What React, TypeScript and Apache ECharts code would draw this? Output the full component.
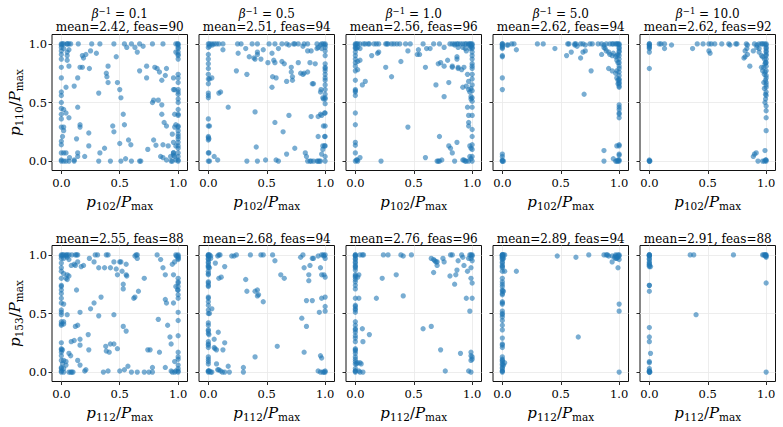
import React, { useEffect, useRef } from 'react';
import * as echarts from 'echarts';

// ---- labels ----
const betaValues = ['0.1', '0.5', '1.0', '5.0', '10.0'];
const topStats = ['mean=2.42, feas=90', 'mean=2.51, feas=94', 'mean=2.56, feas=96', 'mean=2.62, feas=94', 'mean=2.62, feas=92'];
const bottomStats = ['mean=2.55, feas=88', 'mean=2.68, feas=94', 'mean=2.76, feas=96', 'mean=2.89, feas=94', 'mean=2.91, feas=88'];
const tickValues = [0, 0.5, 1];
const topXSub = '102';
const topYSub = '110';
const bottomXSub = '112';
const bottomYSub = '153';

// ---- data: [x, y] ----
const top1: number[][] = [
  [0,1],[0.01,1],[0.02,1],[0.05,1],[0.065,1],[0.08,1],[0.145,1],[0.26,1],[0.33,1],[0.45,1],[0.54,1],[0.6,1],[0.67,1],[0.78,1],[0.87,1],[0.98,1],[0.995,1],[1,1],
  [0,0.97],[0.02,0.96],[0.05,0.93],[0.065,0.95],[0,0.91],[0.25,0.94],[0.3,0.92],[0.56,0.97],[0.63,0.97],[0.7,0.98],[1,0.96],[0.98,0.93],[1,0.91],[0.65,0.93],[0.18,0.9],[0.19,0.88],[0.21,0.91],
  [0,0.99],[0,0.94],[0,0.87],[0,0.8],[0,0.71],[0,0.59],[0,0.56],[0,0.5],[0,0.45],[0,0.4],[0,0.36],[0,0.29],[0,0.17],[0,0.14],[0,0.07],[0,0.01],[0,0],
  [0.04,0.63],[0.02,0.44],[0.04,0.41],[0.065,0.37],[0.02,0.29],[0.02,0.26],[0.01,0.21],[0.02,0.07],[0.04,0.07],[0.02,0],[0.04,0],[0.065,0],[0.11,0],[0.11,0.01],[0.07,0.03],[0.14,0.04],[0.05,0.9],[0.05,0.86],[0.065,0.81],[0.05,1],
  [0.11,0.64],[0.14,0.71],[0.16,0.8],[0.18,0.8],[0.24,0.79],[0.14,0.46],[0.16,0.31],[0.16,0.29],[0.13,0.19],[0.14,0.07],[0.235,0.24],[0.235,0.13],[0.2,0.04],[0.32,0.58],[0.33,0.07],[0.37,0.11],[0.32,0],[0.42,0],[0.385,0.75],[0.4,0.81],[0.39,0.72],[0.4,0.67],[0.48,0.67],[0.47,0.89],[0.5,0.61],[0.51,0.54],[0.44,0.3],[0.45,0.25],[0.54,0.31],[0.53,0.4],[0.5,0.15],[0.51,0],[0.55,0.02],[0.6,0],[0.67,0],[0.68,0],[0.575,0.18],[0.595,0.14],[0.67,0.77],[0.73,0.81],[0.73,0.71],[0.8,0.8],[0.82,0.79],[0.84,0.76],[0.86,0.69],[0.9,0.79],[0.89,0.73],[0.78,0.5],[0.79,0.52],[0.83,0.52],[0.86,0.48],[0.86,0.4],[0.74,0.1],[0.79,0.18],[0.81,0.135],[0.87,0.14],[0.88,0.33],[0.9,0.3],[0.85,0.04],[0.87,0.03],[0.9,0.01],[0.935,0.04],[0.94,0],[0.95,0],[0.96,0.05],[0.96,0.07],[0.915,0.13],
  [1,0.99],[1,0.97],[1,0.93],[1,0.9],[1,0.87],[1,0.74],[1,0.71],[1,0.67],[1,0.61],[1,0.59],[1,0.57],[1,0.53],[1,0.5],[1,0.44],[1,0.4],[1,0.39],[1,0.3],[1,0.29],[1,0.26],[1,0.23],[1,0.21],[1,0.19],[1,0.16],[1,0.13],[1,0.11],[1,0.07],[1,0.04],[1,0.01],[1,0],
  [0.96,0.61],[0.97,0.61],[0.96,0.71],[0.97,0.4],[0.98,0.31],[0.97,0.29],[0.95,0.23],[0.96,0.16],[0.98,0.13],[0.96,0.07],[0.97,0.04],[0.98,0.01],
];

const top2: number[][] = [
  [0,1],[0.01,1],[0.03,1],[0.05,1],[0.07,1],[0.09,1],[0.125,1],[0.25,1],[0.28,1],[0.375,1],[0.42,1],[0.52,1],[0.57,1],[0.63,1],[0.67,1],[0.74,1],[0.77,1],[0.82,1],[0.85,1],[0.93,1],[0.97,1],[0.985,1],[1,1],
  [0,0.97],[0.01,0.98],[0.035,0.99],[0.125,0.95],[0.255,0.92],[0.32,0.96],[0.42,0.93],[0.47,0.95],[0.545,0.92],[0.6,0.96],[0.69,0.99],[0.73,1],[0.81,0.98],[0.85,0.94],[0.88,0.94],[0.93,0.96],[0.94,0.97],[0.96,0.99],[1,0.97],[0.97,0.96],
  [0,0.91],[0,0.87],[0,0.83],[0,0.79],[0,0.74],[0,0.7],[0,0.66],[0,0.58],[0,0.56],[0,0.54],[0,0.36],[0,0.3],[0,0.21],[0,0.2],[0,0.18],[0,0.07],[0,0],[0.01,0.7],[0.01,0.3],[0.005,0.19],[0.03,0.71],[0.09,0.58],[0.105,0.59],[0.17,0.46],[0.05,0.04],[0.08,0.01],[0.01,0],[0.005,0.07],
  [0.24,0.77],[0.33,0.74],[0.35,0.89],[0.39,0.88],[0.4,0.87],[0.42,0.91],[0.45,0.87],[0.51,0.84],[0.56,0.86],[0.57,0.84],[0.55,0.72],[0.58,0.71],[0.545,0.63],[0.63,0.85],[0.65,0.83],[0.67,0.68],[0.72,0.72],[0.72,0.69],[0.71,0.8],[0.71,0.76],[0.77,0.84],[0.79,0.75],[0.82,0.75],[0.81,0.74],[0.85,0.76],[0.89,0.66],[0.9,0.66],[0.87,0.84],[0.915,0.83],[0.4,0.42],[0.57,0.33],[0.69,0.39],[0.64,0.25],[0.41,0.12],[0.33,0],[0.42,0],[0.49,0.01],[0.58,0.01],[0.6,0],[0.67,0.06],[0.74,0.11],[0.83,0.07],[0.84,0.04],[0.85,0],[0.87,0],[0.88,0],[0.9,0],[0.93,0],[0.94,0],[0.88,0.38],[0.94,0.38],[0.94,0.21],[0.98,0.13],[0.995,0.13],[0.97,0.06],[0.98,0.1],[0.995,0.21],[0.995,0.41],
  [1,0.99],[1,0.94],[1,0.9],[1,0.83],[1,0.8],[1,0.79],[1,0.77],[1,0.74],[1,0.71],[1,0.69],[1,0.65],[1,0.61],[1,0.57],[1,0.54],[1,0.53],[1,0.49],[1,0.41],[1,0.3],[1,0.21],[1,0.13],[1,0.04],[1,0],[0.965,0.61],[0.96,0.59],[0.98,0.54],[0.985,0.53],[0.96,0.4],[0.97,0.39],[0.985,0.3],[0.96,0],[0.95,0],
];

const top3: number[][] = [
  [0,1],[0.01,1],[0.02,1],[0.04,1],[0.07,1],[0.085,1],[0.11,1],[0.12,1],[0.16,1],[0.18,1],[0.2,1],[0.26,1],[0.27,1],[0.28,1],[0.31,1],[0.33,1],[0.355,1],[0.38,1],[0.43,1],[0.47,1],[0.58,1],[0.67,1],[0.72,1],[0.81,1],[0.83,1],[0.85,1],[0.87,1],[0.88,1],[0.9,1],[0.92,1],[0.94,1],[0.95,1],[0.97,1],[0.98,1],[0.99,1],[1,1],
  [0,0.99],[0.01,0.96],[0,0.93],[0.02,0.97],[0.04,0.96],[0.2,0.93],[0.14,0.9],[0.19,0.92],[0.45,0.94],[0.54,0.95],[0.53,0.91],[0.55,0.91],[0.61,0.96],[0.64,0.96],[0.76,0.97],[0.85,0.99],[0.88,0.97],[0.92,0.97],[0.94,0.96],[0.95,0.94],[0.97,0.99],[0.98,0.96],[0.99,0.98],
  [0,0.97],[0,0.96],[0,0.9],[0,0.87],[0,0.84],[0,0.81],[0,0.77],[0,0.69],[0,0.61],[0,0.59],[0,0.56],[0,0.41],[0,0.31],[0,0.16],[0,0.135],[0,0.07],[0,0],[0.02,0.85],[0.04,0.86],[0.02,0.78],[0.04,0.03],[0.015,0.01],[0.02,0],[0.01,0.01],[0.06,0.65],[0.085,0.68],[0,0.6],
  [0.26,0.8],[0.31,0.72],[0.39,0.85],[0.45,0.29],[0.22,0],[0.6,0.8],[0.69,0.65],[0.73,0.84],[0.71,0.83],[0.76,0.81],[0.79,0.86],[0.83,0.81],[0.83,0.8],[0.8,0.67],[0.76,0.55],[0.87,0.89],[0.87,0.87],[0.88,0.8],[0.88,0.79],[0.91,0.78],[0.93,0.8],[0.96,0.74],[0.97,0.68],[0.95,0.64],[0.92,0.63],[0.97,0.61],[0.99,0.62],[0.98,0.59],[0.99,0.53],[0.99,0.55],[0.96,0.46],[0.97,0.39],[0.97,0.33],[0.97,0.3],[0.72,0.21],[0.8,0.13],[0.815,0.11],[0.83,0.07],[0.85,0],[0.72,0],[0.71,0],[0.7,0],[0.74,0.01],[0.6,0.03],[0.87,0.16],[0.93,0.01],[0.95,0],[0.94,0],[0.92,0.01],[0.99,0.11],[0.98,0.04],[0.99,0.02],[0.97,0],[0.98,0.13],
  [1,0.99],[1,0.97],[1,0.96],[1,0.93],[1,0.9],[1,0.87],[1,0.83],[1,0.81],[1,0.79],[1,0.74],[1,0.7],[1,0.65],[1,0.6],[1,0.54],[1,0.51],[1,0.46],[1,0.39],[1,0.27],[1,0.21],[1,0.14],[1,0.1],[1,0.04],[1,0],
];

const top4: number[][] = [
  [0,1],[0,1],[0,0.99],[0,0.98],[0,0.97],[0,0.96],[0,0.9],[0,0.89],[0,0.71],[0,0.61],[0,0.06],[0,0.04],[0,0.01],[0,0],[0,0],[0.01,0],
  [0.04,0.99],[0.05,0.99],[0.08,1],[0.1,1],[0.12,0.95],[0.3,1],[0.35,1],[0.45,0.96],[0.56,1],[0.57,1],[0.62,1],[0.63,1],[0.67,1],[0.69,1],[0.71,0.99],[0.75,1],[0.77,1],[0.82,1],[0.85,1],[0.87,0.99],[0.89,1],[0.92,1],[0.94,1],[0.95,1],[0.97,1],[0.98,1],[0.99,1],[1,1],
  [0.55,0.9],[0.59,0.93],[0.62,0.99],[0.64,0.98],[0.69,0.93],[0.71,0.94],[0.67,0.88],[0.87,0.97],[0.88,0.96],[0.85,0.91],[0.89,0.94],[0.91,0.93],[0.92,0.91],[0.94,0.9],[0.95,0.92],[0.97,0.89],[0.98,0.9],[0.99,0.91],[1,0.87],[0.98,0.86],[0.99,0.84],[0.91,0.79],[0.94,0.77],[0.97,0.75],[0.98,0.77],[1,0.76],[0.98,0.71],[0.99,0.69],[0.99,0.66],[1,0.64],[0.76,0.77],[0.7,0.57],
  [1,0.99],[1,0.97],[1,0.96],[1,0.94],[1,0.93],[1,0.9],[1,0.84],[1,0.81],[1,0.79],[1,0.73],[1,0.7],[1,0.69],[1,0.67],[1,0.66],[1,0.63],[1,0.48],[1,0.46],[1,0.44],[1,0.41],[1,0.4],[1,0.37],[1,0.14],[1,0.13],[1,0.06],[1,0.01],[1,0],
  [0.87,0.09],[0.87,0],[0.95,0.02],[0.97,0],[0.98,0],[0.99,0],[0.99,0.01],[0.98,0.13],[1,0.05],
];

const top5: number[][] = [
  [0,1],[0,1],[0,0.99],[0,0.98],[0,0.97],[0,0.96],[0,0.93],[0,0.79],[0,0.01],[0,0],[0,0],[0.005,0],
  [0.085,1],[0.1,1],[0.13,1],[0.13,0.96],[0.19,0.99],[0.37,0.96],[0.41,1],[0.46,1],[0.51,1],[0.53,1],[0.56,1],[0.62,1],[0.68,1],[0.74,1],[0.75,1],[0.83,1],[0.84,0.99],[0.92,0.99],[0.94,1],[0.96,1],[0.97,1],[0.985,1],[1,1],
  [0.51,0.94],[0.52,0.92],[0.69,0.99],[0.81,0.88],[0.82,0.89],[0.84,0.91],[0.82,0.94],[0.835,0.96],[0.89,0.94],[0.9,1],[0.92,0.97],[0.94,0.96],[0.94,0.93],[0.96,0.9],[0.97,0.89],[0.985,0.87],[0.995,0.84],[1,0.97],[0.86,0.81],[0.96,0.8],[0.98,0.8],[0.97,0.77],[0.985,0.74],[1,0.71],[0.995,0.69],[0.98,0.67],[1,0.65],[0.985,0.62],[1,0.59],[0.995,0.57],[1,0.56],
  [1,0.99],[1,0.96],[1,0.94],[1,0.93],[1,0.91],[1,0.9],[1,0.87],[1,0.84],[1,0.81],[1,0.77],[1,0.73],[1,0.67],[1,0.63],[1,0.47],[1,0.43],[1,0.37],[1,0.26],[1,0.01],[1,0],[0.99,0.83],[0.99,0.76],[0.995,0.53],[0.99,0.5],
  [0.9,0.06],[0.915,0.07],[0.89,0.04],[0.93,0],[0.97,0],[0.985,0],[0.995,0.01],[0.99,0.09],
];

const bottom1: number[][] = [
  [0,1],[0.01,1],[0.02,1],[0.04,1],[0.05,1],[0.065,1],[0.09,1],[0.12,1],[0.13,1],[0.14,1],[0.29,1],[0.31,1],[0.385,1],[0.4,1],[0.64,1],[0.65,1],[0.82,1],[0.98,1],[1,1],
  [0,0.97],[0.04,0.99],[0.05,0.98],[0.02,0.97],[0.065,0.96],[0.085,0.91],[0.11,0.92],[0.14,0.94],[0.17,0.9],[0.12,0.91],[0.19,0.91],[0.24,0.97],[0.28,0.94],[0.32,0.89],[0.37,0.89],[0.42,0.89],[0.45,0.94],[0.47,0.88],[0.48,0.83],[0.5,0.94],[0.51,0.94],[0.52,0.86],[0.555,0.92],[0.555,0.83],[0.56,0.82],[0.63,0.99],[0.65,0.97],[0.85,0.96],[0.87,0.89],[0.89,0.83],[0.95,0.92],[0.97,0.94],[0.985,0.99],[1,0.98],[0.96,0.83],[1,0.8],[1,0.77],[1,0.73],[0.995,0.7],[0.98,0.73],[0,0.93],[0,0.89],[0,0.86],
  [0,0.99],[0,0.8],[0,0.74],[0,0.73],[0,0.7],[0,0.67],[0,0.63],[0,0.59],[0,0.53],[0,0.51],[0,0.49],[0,0.43],[0,0.41],[0,0.4],[0,0.25],[0,0.2],[0,0.19],[0,0.17],[0,0.14],[0,0.1],[0,0.04],[0,0.03],[0,0.01],[0,0],[0.02,0.43],[0.02,0.41],[0.05,0.83],[0.065,0.82],[0.05,0.79],[0.02,0.84],[0.04,0.8],[0.01,0.19],[0.02,0.1],[0.04,0.09],[0.065,0.16],[0.08,0.14],[0.01,0.07],[0.04,0.06],[0.02,0.03],[0.065,0],[0.08,0],[0.09,0],[0.1,0],[0.02,0],
  [0.02,0.58],[0.05,0.49],[0.085,0.26],[0.11,0.27],[0.12,0.39],[0.14,0.4],[0.13,0.7],[0.16,0.51],[0.16,0.28],[0.14,0.1],[0.16,0.23],[0.16,0.06],[0.2,0.01],[0.21,0.02],[0.23,0.32],[0.235,0.19],[0.25,0.54],[0.28,0.59],[0.34,0.64],[0.32,0.48],[0.36,0],[0.4,0.01],[0.45,0.49],[0.5,0.01],[0.54,0.02],[0.53,0.75],[0.53,0.71],[0.57,0.05],[0.53,0.39],[0.555,0.35],[0.45,0.24],[0.38,0.22],[0.385,0.18],[0.42,0.24],[0.41,0.17],[0.48,0.2],[0.6,0],[0.65,0],[0.71,0],[0.75,0],[0.78,0.04],[0.78,0],[0.74,0.19],[0.76,0.19],[0.84,0.17],[0.71,0.8],[0.66,0.69],[0.63,0.64],[0.62,0.63],[0.83,0.45],[0.89,0.62],[0.9,0.59],[0.91,0.4],[0.93,0.3],[0.94,0.24],[0.96,0.59],[0.97,0.09],[0.89,0.04],[0.94,0.01],[0.95,0],[0.97,0],[0.98,0.01],
  [1,0.99],[1,0.97],[1,0.96],[1,0.76],[1,0.7],[1,0.66],[1,0.63],[1,0.51],[1,0.44],[1,0.31],[1,0.17],[1,0.13],[1,0.11],[1,0.06],[1,0.03],[1,0.01],[1,0],
];

const bottom2: number[][] = [
  [0,1],[0,1],[0,0.99],[0,0.99],[0,0.97],[0,0.96],[0,0.94],[0,0.93],[0,0.91],[0,0.9],[0,0.89],[0,0.86],[0,0.84],[0,0.83],[0,0.77],[0,0.76],[0,0.74],[0,0.73],[0,0.64],[0,0.63],[0,0.6],[0,0.57],[0,0.53],[0,0.5],[0,0.42],[0,0.4],[0,0.36],[0,0.35],[0,0.33],[0,0.26],[0,0.24],[0,0.23],[0,0.21],[0,0.13],[0,0.11],[0,0.09],[0,0.07],[0,0.01],[0,0.01],[0,0],
  [0.01,1],[0.02,0.99],[0.02,0.97],[0.01,0.89],[0.03,0.54],[0.01,0.5],[0.005,0.32],[0.02,0],[0.01,0.01],[0.03,0],[0.06,0.93],[0.05,0.21],[0.057,0.2],[0.07,0.19],[0.07,0.07],[0.08,0.02],[0.09,0.02],[0.105,0.01],[0.12,0],[0.14,0],[0.17,0.05],[0.18,0],[0.085,0.34],[0.14,0.25],[0.125,0.19],[0.05,0.28],[0.11,0.81],[0.09,0.8],[0.14,0.9],[0.08,0.99],[0.09,1],[0.1,1],
  [0.2,0.99],[0.22,0.99],[0.24,1],[0.36,1],[0.45,1],[0.47,1],[0.55,1],[0.79,0.98],[0.81,1],[0.89,0.97],[0.9,0.97],[0.94,0.99],[0.97,1],[0.985,1],[1,1],[0.99,0.99],[1,0.97],
  [0.57,0.95],[0.62,0.83],[0.65,0.8],[0.32,0.79],[0.33,0.69],[0.4,0.69],[0.42,0.7],[0.43,0.66],[0.42,0.65],[0.47,0.6],[0.82,0.89],[0.87,0.91],[0.86,0.83],[0.86,0.78],[0.96,0.89],[0.97,0.83],[0.99,0.83],[1,0.81],[0.84,0.61],[0.89,0.61],[0.97,0.63],[1,0.64],[1,0.56],[0.95,0.51],[1,0.52],[0.8,0.46],[0.84,0.39],[0.59,0.22],[0.82,0.17],[0.4,0.13],[0.3,0.04],[0.3,0],[0.96,0.14],[0.97,0.12],[0.94,0.01],[0.96,0],[0.98,0],[0.99,0],[1,0.01],[1,0],
];

const bottom3: number[][] = [
  [0,1],[0,1],[0,0.99],[0,0.99],[0,0.97],[0,0.96],[0,0.94],[0,0.93],[0,0.91],[0,0.9],[0,0.89],[0,0.87],[0,0.83],[0,0.82],[0,0.81],[0,0.79],[0,0.77],[0,0.74],[0,0.71],[0,0.63],[0,0.57],[0,0.56],[0,0.54],[0,0.53],[0,0.51],[0,0.43],[0,0.4],[0,0.37],[0,0.36],[0,0.34],[0,0.31],[0,0.29],[0,0.26],[0,0.2],[0,0.19],[0,0.18],[0,0.16],[0,0.13],[0,0.11],[0,0.09],[0,0.07],[0,0.03],[0,0.01],[0,0.01],[0,0],
  [0.01,0.07],[0.02,0.08],[0.04,0.08],[0.05,0.07],[0.03,0.01],[0.04,0],[0.065,0],[0.02,0.81],[0.03,0.83],[0.04,1],[0.06,1],[0.07,1],[0.03,0.63],[0.06,0.37],[0.065,0.26],[0.12,0.32],[0.18,0.63],[0.23,0.8],[0.24,1],[0.28,1],[0.35,0.83],[0.39,1],[0.41,0.99],[0.41,0.65],[0.48,1],[0.58,0.37],[0.65,0.39],[0.65,0.97],[0.67,0.96],[0.68,0.95],[0.7,0.94],[0.7,0.91],[0.69,0.94],[0.67,0.85],[0.75,0.97],[0.76,0.94],[0.815,1],[0.83,1],[0.81,0.82],[0.86,0.83],[0.87,0.87],[0.85,0.75],[0.88,0.95],[0.91,1],[0.92,0.98],[0.93,0.91],[0.96,0.86],[0.97,0.97],[0.98,1],[0.99,1],[1,1],[1,0.99],[0.99,0.97],[1,0.95],[0.99,0.89],[0.99,0.8],[1,0.76],[1,0.63],[0.95,0.63],[0.98,0.52],[0.73,0.19],[0.77,0.01],[0.9,0.16],[0.99,0.17],[0.99,0.14],[1,0.13],[1,0.11],[0.99,0.1],[0.97,0.01],[0.99,0],
];

const bottom4: number[][] = [
  [0,1],[0,1],[0,1],[0,0.99],[0,0.99],[0,0.98],[0,0.97],[0,0.96],[0,0.94],[0,0.93],[0,0.91],[0,0.9],[0,0.89],[0,0.86],[0,0.8],[0,0.77],[0,0.75],[0,0.73],[0,0.7],[0,0.69],[0,0.67],[0,0.66],[0,0.6],[0,0.59],[0,0.58],[0,0.52],[0,0.5],[0,0.49],[0,0.47],[0,0.44],[0,0.4],[0,0.36],[0,0.29],[0,0.24],[0,0.23],[0,0.21],[0,0.13],[0,0.11],[0,0.1],[0,0.09],[0,0.07],[0,0.06],[0,0.04],[0,0.03],[0,0.01],[0,0.01],[0,0],
  [0.01,1],[0.02,1],[0.01,0.97],[0.02,0.86],[0.01,0.69],[0.02,0.08],[0.01,0.06],[0.12,0.86],[0.47,0.99],[0.63,0.98],[0.74,1],[0.87,1],[0.89,1],[0.9,1],[0.91,0.99],[0.94,0.94],[0.94,0.99],[0.96,0.98],[0.97,0.99],[0.97,1],[0.98,0.98],[0.99,1],[0.99,0.98],[1,1],[1,0.99],[1,0.96],[0.99,0.89],[1,0.58],[1,0.52],[0.65,0.3],[1,0],[0.97,0.97],[0.98,0.97],
];

const bottom5: number[][] = [
  [0,1],[0,1],[0,1],[0,0.99],[0,0.99],[0,0.97],[0,0.96],[0,0.94],[0,0.93],[0,0.92],[0,0.91],[0,0.9],[0,0.74],[0,0.74],[0,0.69],[0,0.38],[0,0.3],[0,0.26],[0,0.09],[0,0.08],[0,0.03],[0,0.01],[0,0.01],[0,0],[0.01,0.9],[0.01,0.16],[0,0],[0.005,0],
  [0.35,1],[0.38,1],[0.72,1],[0.97,1],[0.98,1],[0.99,1],[0.995,1],[1,1],[1,0.99],[1,0.98],[0.995,0.99],[1,0.76],[1,0],[0.4,0.49],
];

const panelData = [top1, top2, top3, top4, top5, bottom1, bottom2, bottom3, bottom4, bottom5];

// ---- layout ----
const LEFTS = [52, 199, 346, 493, 640];
const TOPS = [34.5, 245.5];
const W = 135.5;
const H = 136;
const AX_MIN = -0.08;
const AX_MAX = 1.08;
const FONT = 'DejaVu Serif';
const DOT = '#1f77b4';

const nameRich = {
  i: { fontFamily: FONT, fontStyle: 'italic', fontSize: 15, lineHeight: 20, color: '#000' },
  r: { fontFamily: FONT, fontSize: 15, lineHeight: 20, color: '#000' },
  s: { fontFamily: FONT, fontSize: 10.5, lineHeight: 10, verticalAlign: 'bottom', color: '#000' },
};

const axisName = (sub: string) => `{i|p}{s|${sub}}{r|/}{i|P}{s|max}`;

function buildOption() {
  const grid: any[] = [];
  const xAxis: any[] = [];
  const yAxis: any[] = [];
  const series: any[] = [];
  const graphic: any[] = [];
  for (let k = 0; k < 10; k++) {
    const row = Math.floor(k / 5);
    const col = k % 5;
    grid.push({
      left: LEFTS[col], top: TOPS[row], width: W, height: H,
      show: true, borderColor: '#111', borderWidth: 1, backgroundColor: 'transparent',
    });
    const common = {
      type: 'value', gridIndex: k, min: AX_MIN, max: AX_MAX,
      axisLine: { show: false, onZero: false },
      axisTick: { show: true, customValues: tickValues, length: 3.5, lineStyle: { color: '#111', width: 0.9 } },
      splitLine: { show: true, lineStyle: { color: '#e8e8e8', width: 0.8 } },
      axisLabel: {
        customValues: tickValues,
        formatter: (v: number) => v.toFixed(1),
        fontFamily: FONT, fontSize: 11.5, color: '#000',
      },
    };
    xAxis.push({
      ...common,
      position: 'bottom',
      axisLabel: { ...common.axisLabel, margin: 6 },
      name: axisName(row === 0 ? topXSub : bottomXSub),
      nameLocation: 'middle', nameGap: 21,
      nameTextStyle: { rich: nameRich },
    });
    yAxis.push({
      ...common,
      position: 'left',
      axisLabel: { ...common.axisLabel, margin: 5, show: col === 0 },
      name: col === 0 ? axisName(row === 0 ? topYSub : bottomYSub) : '',
      nameLocation: 'middle', nameGap: 22, nameRotate: 90,
      nameTextStyle: { rich: nameRich },
    });
    series.push({
      type: 'scatter', xAxisIndex: k, yAxisIndex: k,
      data: panelData[k], symbolSize: 5.3,
      itemStyle: { color: DOT, opacity: 0.6 },
      silent: true,
    });
    const cx = LEFTS[col] + W / 2;
    if (row === 0) {
      graphic.push({
        type: 'text', x: cx, y: 13.5,
        style: {
          text: `{i|β}{sup|−1}{r| = ${betaValues[col]}}`,
          align: 'center', verticalAlign: 'middle',
          rich: {
            i: { fontFamily: FONT, fontStyle: 'italic', fontSize: 12, lineHeight: 15, fill: '#000' },
            r: { fontFamily: FONT, fontSize: 12, lineHeight: 15, fill: '#000' },
            sup: { fontFamily: FONT, fontSize: 8.5, lineHeight: 9, verticalAlign: 'top', fill: '#000' },
          },
        },
      });
      graphic.push({
        type: 'text', x: cx, y: 26.5,
        style: { text: topStats[col], align: 'center', verticalAlign: 'middle', fontFamily: FONT, fontSize: 12, fill: '#000' },
      });
    } else {
      graphic.push({
        type: 'text', x: cx, y: 238.5,
        style: { text: bottomStats[col], align: 'center', verticalAlign: 'middle', fontFamily: FONT, fontSize: 12, fill: '#000' },
      });
    }
  }
  return {
    animation: false,
    backgroundColor: '#fff',
    grid, xAxis, yAxis, series, graphic,
  };
}

export default function App() {
  const ref = useRef<HTMLDivElement>(null);
  useEffect(() => {
    if (!ref.current) return;
    const chart = echarts.init(ref.current, null, { renderer: 'svg' });
    chart.setOption(buildOption() as any);
    return () => chart.dispose();
  }, []);
  return (
    <div
      ref={ref}
      style={{ position: 'fixed', left: 0, top: 0, width: 783, height: 427, background: '#fff' }}
    />
  );
}
